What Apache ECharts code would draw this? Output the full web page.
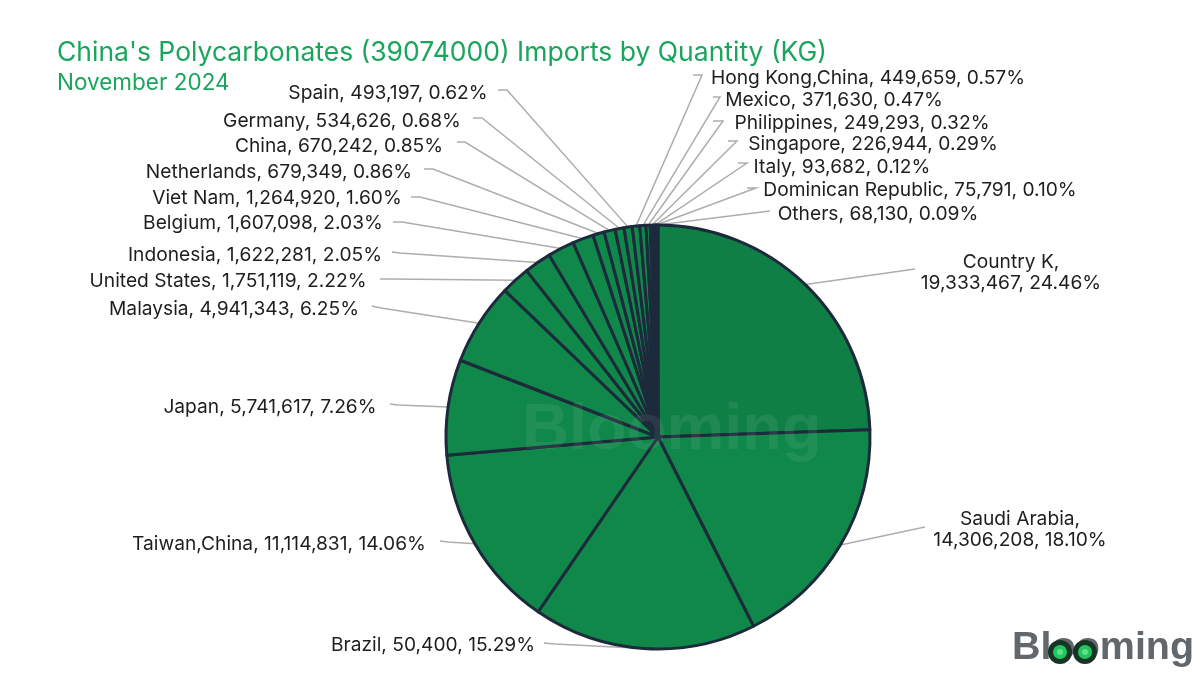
<!DOCTYPE html>
<html lang="en">
<head>
    <meta charset="UTF-8">
    <title>China's Polycarbonates Imports by Quantity</title>
    <script src="https://cdn.jsdelivr.net/npm/echarts@6/dist/echarts.min.js"></script>
    <style>
        html, body { margin: 0; background: #fff; }
    </style>
</head>
<body>
<div id="main" style="width: 1200px;height: 675px;"></div>

<script type="text/javascript">
    // slice order, clockwise from 12 o'clock
    var countries = ['Country K', 'Saudi Arabia', 'Brazil', 'Taiwan,China', 'Japan', 'Malaysia', 'United States',
        'Indonesia', 'Belgium', 'Viet Nam', 'Netherlands', 'China', 'Germany', 'Spain', 'Hong Kong,China',
        'Mexico', 'Philippines', 'Singapore', 'Italy', 'Dominican Republic', 'Others'];
    // what the labels print
    var quantityText = ['19,333,467', '14,306,208', '50,400', '11,114,831', '5,741,617', '4,941,343', '1,751,119',
        '1,622,281', '1,607,098', '1,264,920', '679,349', '670,242', '534,626', '493,197', '449,659',
        '371,630', '249,293', '226,944', '93,682', '75,791', '68,130'];
    var shareText = ['24.46%', '18.10%', '15.29%', '14.06%', '7.26%', '6.25%', '2.22%',
        '2.05%', '2.03%', '1.60%', '0.86%', '0.85%', '0.68%', '0.62%', '0.57%',
        '0.47%', '0.32%', '0.29%', '0.12%', '0.10%', '0.09%'];
    // slice size in kg. Brazil's printed 50,400 does not fit its slice, so its size is read from the angle
    var sliceKg = [19333467, 14306208, 13440000, 11114831, 5741617, 4941343, 1751119,
        1622281, 1607098, 1264920, 679349, 670242, 534626, 493197, 449659,
        371630, 249293, 226944, 93682, 75791, 68130];

    // label centres, then where each guide line bends and ends
    var labelSpots = [[1011, 273], [1020, 530], [433, 645], [279, 544], [270, 407], [234, 309], [228, 281],
        [255, 255], [263, 223], [277, 198], [279, 172], [339, 146], [342, 121], [388, 93], [868, 78],
        [834, 100], [862, 123], [873, 144], [842, 167], [920, 190], [878, 214]];
    var guideBends = [[915, 269], [925, 527], [555, 644], [448, 542], [398, 405], [381, 308], [390, 279],
        [400, 253], [402, 222], [420, 197], [433, 169], [465, 142], [482, 118], [507, 90], [702, 75],
        [720, 97], [723, 121], [737, 141], [747, 163], [756, 188], [770, 211]];
    var guideEnds = [[915, 269], [925, 527], [544, 643], [440, 541], [390, 404], [372, 306], [380, 279],
        [392, 252], [393, 222], [411, 197], [424, 169], [457, 142], [473, 118], [498, 90], [693, 75],
        [713, 97], [713, 121], [728, 141], [738, 163], [747, 188], [770, 211]];

    var fontName = 'Inter';
    var lastGreen = 17; // slices from here on are navy

    var chartData = countries.map(function (name, i) {
        return {
            name: name,
            value: sliceKg[i],
            itemStyle: {color: i >= lastGreen ? '#262a46' : (i === 0 ? '#0f7f46' : '#10884a')},
            label: {
                formatter: i < 2
                    ? name + ',\n' + quantityText[i] + ', ' + shareText[i]
                    : name + ', ' + quantityText[i] + ', ' + shareText[i]
            }
        };
    });

    var myChart = echarts.init(document.getElementById('main'));

    var option = {
        backgroundColor: '#ffffff',
        animation: false,
        title: {
            text: "China's Polycarbonates (39074000) Imports by Quantity (KG)",
            subtext: 'November 2024',
            left: 57,
            top: 40,
            padding: 0,
            itemGap: 5,
            textStyle: {color: '#1aa55c', fontFamily: fontName, fontSize: 26.5, fontWeight: 'normal'},
            subtextStyle: {color: '#1aa55c', fontFamily: fontName, fontSize: 22.5}
        },
        series: [{
            type: 'pie',
            center: [658, 437],
            radius: [0, 212],
            startAngle: 90,
            clockwise: true,
            avoidLabelOverlap: false,
            data: chartData,
            itemStyle: {borderColor: '#1c2a3c', borderWidth: 3},
            emphasis: {disabled: true},
            label: {
                show: true,
                position: 'outside',
                color: '#1e1e1e',
                fontFamily: fontName,
                fontSize: 19.2,
                lineHeight: 21,
                align: 'center'
            },
            labelLine: {
                show: true,
                lineStyle: {color: '#adadad', width: 1.5}
            },
            labelLayout: function (params) {
                var spot = labelSpots[params.dataIndex];
                return {
                    x: spot[0],
                    y: spot[1],
                    align: 'center',
                    verticalAlign: 'middle',
                    labelLinePoints: [
                        params.labelLinePoints[0],
                        guideBends[params.dataIndex],
                        guideEnds[params.dataIndex]
                    ]
                };
            }
        }],
        graphic: [
            // faint watermark across the pie
            {
                type: 'text', left: 522, top: 399, z: 10, silent: true,
                style: {text: 'Blooming', fill: 'rgba(255,255,255,0.07)', font: 'bold 65px "Liberation Sans"'}
            },
            // logo, bottom right
            {
                type: 'text', left: 1012, top: 628, z: 10, silent: true,
                style: {text: 'Blooming', fill: '#62676b', font: 'bold 39.5px "Liberation Sans"'}
            },
            {type: 'circle', shape: {cx: 1060, cy: 652, r: 12}, z: 11, silent: true, style: {fill: '#173527'}},
            {type: 'circle', shape: {cx: 1085, cy: 652, r: 12}, z: 11, silent: true, style: {fill: '#173527'}},
            {type: 'circle', shape: {cx: 1060, cy: 652, r: 7}, z: 12, silent: true, style: {fill: '#22c55e'}},
            {type: 'circle', shape: {cx: 1085, cy: 652, r: 7}, z: 12, silent: true, style: {fill: '#22c55e'}},
            {type: 'circle', shape: {cx: 1060, cy: 652, r: 3}, z: 13, silent: true, style: {fill: '#5fe08e'}},
            {type: 'circle', shape: {cx: 1085, cy: 652, r: 3}, z: 13, silent: true, style: {fill: '#5fe08e'}}
        ]
    };

    myChart.setOption(option);
</script>
</body>
</html>
